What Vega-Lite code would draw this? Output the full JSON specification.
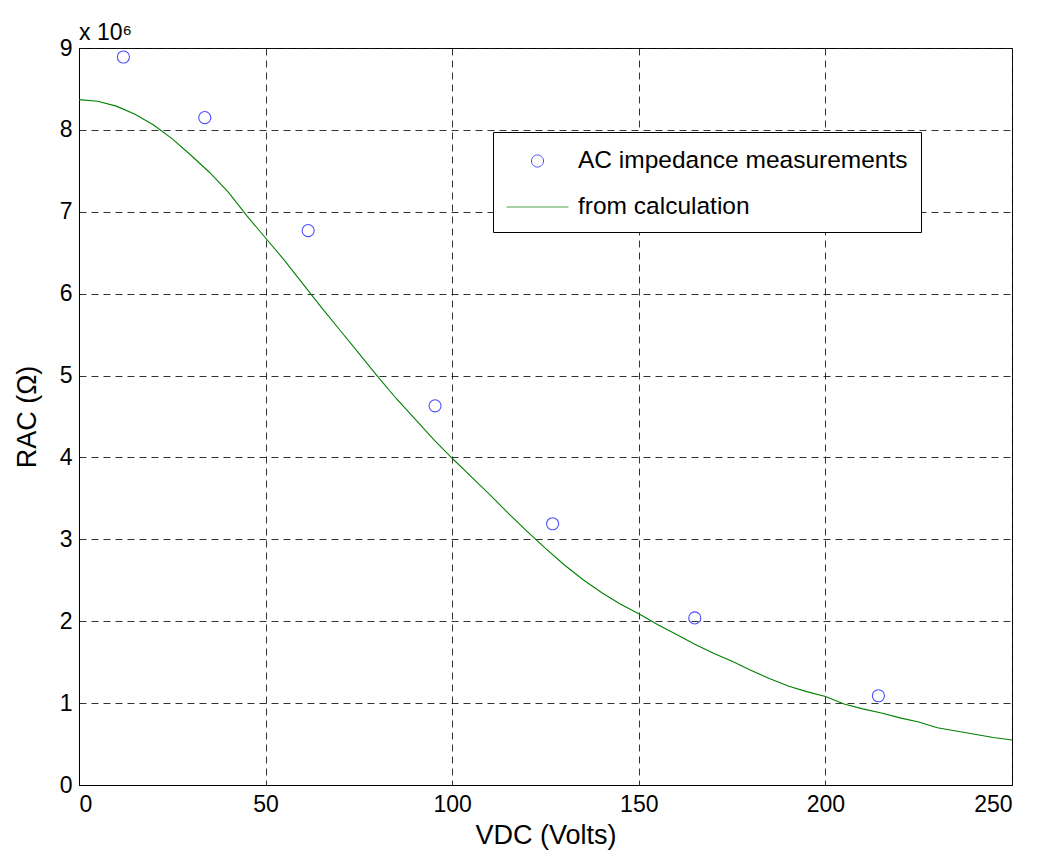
{
  "$schema": "https://vega.github.io/schema/vega-lite/v6.json",
  "width": 933,
  "height": 737,
  "autosize": {"type": "none"},
  "padding": {"left": 79, "top": 48, "right": 27, "bottom": 83},
  "background": "white",
  "title": {"text": "x 10⁶", "anchor": "start", "frame": "group", "fontSize": 23, "font": "Liberation Sans", "fontWeight": "normal", "baseline": "alphabetic", "offset": 9, "dy": 35, "color": "black"},
  "config": {
    "view": {"stroke": "black", "strokeWidth": 1},
    "font": "Liberation Sans",
    "axis": {
      "labelFont": "Liberation Sans", "labelFontSize": 23, "labelColor": "black",
      "titleFont": "Liberation Sans", "titleFontSize": 27, "titleFontWeight": "normal", "titleColor": "black",
      "domainColor": "black", "domainWidth": 1, "ticks": false,
      "grid": true, "gridColor": "#111", "gridDash": [7, 5], "gridWidth": 1, "gridOpacity": 0.85
    },
    "legend": {"title": null, "orient": "none", "legendX": 414, "legendY": 84, "fillColor": "white", "strokeColor": "black", "padding": 13, "labelFontSize": 24.5, "labelFont": "Liberation Sans", "labelColor": "black", "labelLimit": 0, "symbolSize": 961, "symbolStrokeWidth": 1, "symbolOffset": 15.5, "rowPadding": 18, "labelOffset": 24.5}
  },
  "datasets": {
    "meas": [
      {"V": 11.9, "R": 8890000, "series": "AC impedance measurements"},
      {"V": 33.7, "R": 8150000, "series": "AC impedance measurements"},
      {"V": 61.4, "R": 6770000, "series": "AC impedance measurements"},
      {"V": 95.4, "R": 4630000, "series": "AC impedance measurements"},
      {"V": 126.9, "R": 3190000, "series": "AC impedance measurements"},
      {"V": 165.0, "R": 2040000, "series": "AC impedance measurements"},
      {"V": 214.2, "R": 1090000, "series": "AC impedance measurements"}
    ],
    "calc": [
      {"V": 0, "R": 8370000, "series": "from calculation"},
      {"V": 5, "R": 8350000, "series": "from calculation"},
      {"V": 10, "R": 8290000, "series": "from calculation"},
      {"V": 15, "R": 8190000, "series": "from calculation"},
      {"V": 20, "R": 8060000, "series": "from calculation"},
      {"V": 25, "R": 7890000, "series": "from calculation"},
      {"V": 30, "R": 7690000, "series": "from calculation"},
      {"V": 35, "R": 7480000, "series": "from calculation"},
      {"V": 40, "R": 7240000, "series": "from calculation"},
      {"V": 45, "R": 6950000, "series": "from calculation"},
      {"V": 50, "R": 6680000, "series": "from calculation"},
      {"V": 55, "R": 6410000, "series": "from calculation"},
      {"V": 60, "R": 6120000, "series": "from calculation"},
      {"V": 65, "R": 5830000, "series": "from calculation"},
      {"V": 70, "R": 5550000, "series": "from calculation"},
      {"V": 75, "R": 5270000, "series": "from calculation"},
      {"V": 80, "R": 4990000, "series": "from calculation"},
      {"V": 85, "R": 4720000, "series": "from calculation"},
      {"V": 90, "R": 4470000, "series": "from calculation"},
      {"V": 95, "R": 4220000, "series": "from calculation"},
      {"V": 100, "R": 3990000, "series": "from calculation"},
      {"V": 105, "R": 3770000, "series": "from calculation"},
      {"V": 110, "R": 3550000, "series": "from calculation"},
      {"V": 115, "R": 3320000, "series": "from calculation"},
      {"V": 120, "R": 3100000, "series": "from calculation"},
      {"V": 125, "R": 2890000, "series": "from calculation"},
      {"V": 130, "R": 2690000, "series": "from calculation"},
      {"V": 135, "R": 2510000, "series": "from calculation"},
      {"V": 140, "R": 2350000, "series": "from calculation"},
      {"V": 145, "R": 2210000, "series": "from calculation"},
      {"V": 150, "R": 2090000, "series": "from calculation"},
      {"V": 155, "R": 1960000, "series": "from calculation"},
      {"V": 160, "R": 1840000, "series": "from calculation"},
      {"V": 165, "R": 1720000, "series": "from calculation"},
      {"V": 170, "R": 1610000, "series": "from calculation"},
      {"V": 175, "R": 1510000, "series": "from calculation"},
      {"V": 180, "R": 1400000, "series": "from calculation"},
      {"V": 185, "R": 1300000, "series": "from calculation"},
      {"V": 190, "R": 1210000, "series": "from calculation"},
      {"V": 195, "R": 1140000, "series": "from calculation"},
      {"V": 200, "R": 1080000, "series": "from calculation"},
      {"V": 205, "R": 990000, "series": "from calculation"},
      {"V": 210, "R": 930000, "series": "from calculation"},
      {"V": 215, "R": 880000, "series": "from calculation"},
      {"V": 220, "R": 820000, "series": "from calculation"},
      {"V": 225, "R": 770000, "series": "from calculation"},
      {"V": 230, "R": 700000, "series": "from calculation"},
      {"V": 235, "R": 660000, "series": "from calculation"},
      {"V": 240, "R": 620000, "series": "from calculation"},
      {"V": 245, "R": 580000, "series": "from calculation"},
      {"V": 250, "R": 550000, "series": "from calculation"}
    ]
  },
  "encoding": {
    "x": {"field": "V", "type": "quantitative", "scale": {"domain": [0, 250], "nice": false, "zero": false},
      "axis": {"title": "VDC (Volts)", "values": [0, 50, 100, 150, 200, 250], "labelPadding": 8, "titlePadding": 6}},
    "y": {"field": "R", "type": "quantitative", "scale": {"domain": [0, 9000000], "nice": false},
      "axis": {"title": "RAC (Ω)", "values": [0, 1000000, 2000000, 3000000, 4000000, 5000000, 6000000, 7000000, 8000000, 9000000], "labelExpr": "format(datum.value / 1000000, 'd')", "labelPadding": 7, "titlePadding": 18}}
  },
  "layer": [
    {
      "data": {"name": "calc"},
      "mark": {"type": "line", "strokeWidth": 1.1, "interpolate": "linear"},
      "encoding": {
        "color": {"field": "series", "type": "nominal",
          "scale": {"domain": ["AC impedance measurements", "from calculation"], "range": ["#0000ff", "#008000"]}}
      }
    },
    {
      "data": {"name": "meas"},
      "mark": {"type": "point", "filled": false, "size": 961, "strokeWidth": 1.1},
      "encoding": {
        "color": {"field": "series", "type": "nominal",
          "scale": {"domain": ["AC impedance measurements", "from calculation"], "range": ["#0000ff", "#008000"]}},
        "shape": {"field": "series", "type": "nominal",
          "scale": {"domain": ["AC impedance measurements", "from calculation"], "range": ["M0.39,0A0.39,0.39,0,1,1,-0.39,0A0.39,0.39,0,1,1,0.39,0Z", "M-2,0L2,0"]}}
      }
    }
  ]
}
